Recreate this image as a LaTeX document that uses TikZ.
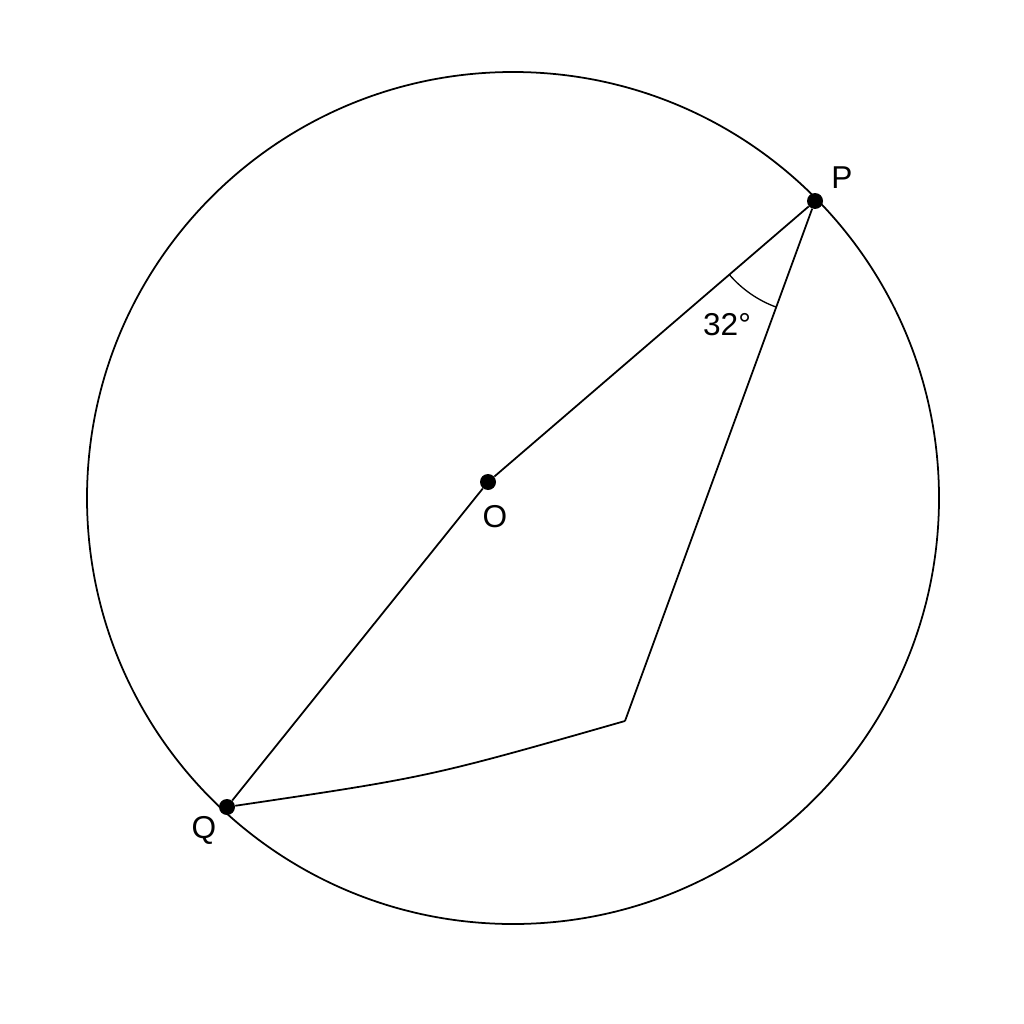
\documentclass[tikz,border=0pt]{standalone}
\usepackage{fontspec}
\setmainfont{Liberation Sans}
\usetikzlibrary{angles}
\begin{document}
\begin{tikzpicture}[x=0.02cm,y=-0.02cm,
  ln/.style={line width=1pt,black},
  dot/.style={circle,fill=black,inner sep=0pt,minimum size=0.32cm},
  lbl/.style={font=\fontsize{18}{22}\selectfont,inner sep=0pt}]
\useasboundingbox[fill=white] (0,0) rectangle (1024,1024);
\coordinate (c) at (513,498);
\coordinate (r) at (625,721);
\coordinate (ctrl) at (429,777);
\draw[ln] (c) circle (426*0.02cm);
\node[dot] (P) at (815,201) {};
\node[dot] (O) at (488,482) {};
\node[dot] (Q) at (227,807) {};
\draw[ln] (P) -- (O) -- (Q);
\draw[ln] (P) -- (r);
\draw[ln] (Q) .. controls (ctrl) .. (r);
\draw[line width=0.75pt] pic[draw, angle radius=2.26cm] {angle = O--P--r};
\node[lbl] (lP) at (842,178) {P};
\node[lbl] (lO) at (495,517) {O};
\node[lbl] (lQ) at (204,830) {Q};
\node[lbl] (la) at (727,325) {32°};
\end{tikzpicture}
\end{document}
